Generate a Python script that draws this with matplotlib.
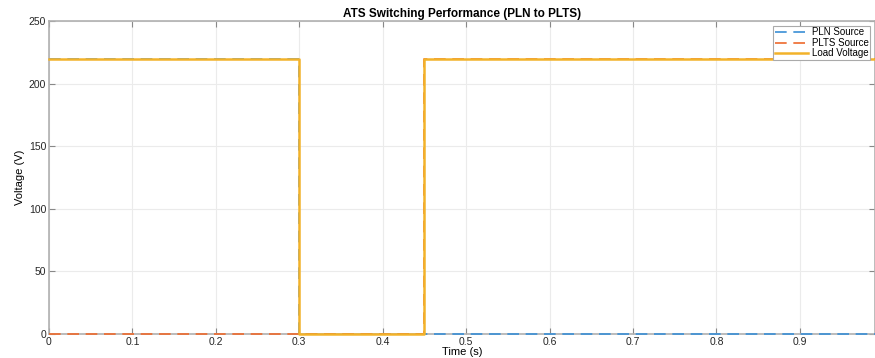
import matplotlib.pyplot as plt
import numpy as np

plt.rcParams['font.family'] = ['Liberation Sans', 'DejaVu Sans']

# waktu dan tegangan (titik sudut sinyal step)
t_pln = [0, 0.3, 0.3, 0.99]
v_pln = [220, 220, 0, 0]
t_plts = [0, 0.45, 0.45, 0.99]
v_plts = [0, 0, 220, 220]
t_load = [0, 0.3, 0.3, 0.45, 0.45, 0.99]
v_load = [220, 220, 0, 0, 220, 220]

fig = plt.figure(figsize=(8.75, 3.58), dpi=100)
ax = fig.add_axes([0.056, 0.067, 0.944, 0.874])

ax.plot(t_pln, v_pln, '--', color='#3A8FD6', lw=1.2, dashes=(7, 4), label='PLN Source',
        zorder=3, clip_on=False)
ax.plot(t_plts, v_plts, '--', color='#EE6A2C', lw=1.2, dashes=(7, 4), label='PLTS Source',
        zorder=3, clip_on=False)
ax.plot(t_load, v_load, '-', color='#F2B22A', lw=1.8, label='Load Voltage',
        zorder=4, clip_on=False)

ax.set_xlim(0, 0.99)
ax.set_ylim(0, 250)
ax.set_xticks(np.arange(0, 1.0, 0.1))
ax.set_xticklabels(['0', '0.1', '0.2', '0.3', '0.4', '0.5', '0.6', '0.7', '0.8', '0.9'])
ax.set_yticks(np.arange(0, 251, 50))
ax.grid(True, color='#ebebeb', lw=0.8)
ax.tick_params(direction='in', length=4, color='#888888', labelsize=7.5, labelcolor='#262626',
               top=True, right=True, pad=2)
for s in ax.spines.values():
    s.set_color('#b0b0b0')
    s.set_linewidth(1.2)
    s.set_zorder(2.5)

ax.set_title('ATS Switching Performance (PLN to PLTS)', fontsize=8.5, fontweight='bold', pad=3)
ax.set_xlabel('Time (s)', fontsize=8, labelpad=0)
ax.set_ylabel('Voltage (V)', fontsize=8, labelpad=3)

leg = ax.legend(loc='upper right', fontsize=7, handlelength=3.4, borderpad=0.15,
                labelspacing=0.05, handletextpad=0.4, borderaxespad=0.5, fancybox=False,
                framealpha=1)
leg.get_frame().set_edgecolor('#aaaaaa')
leg.get_frame().set_linewidth(0.8)
leg.set_zorder(5)

fig.savefig('out.png', dpi=100)
